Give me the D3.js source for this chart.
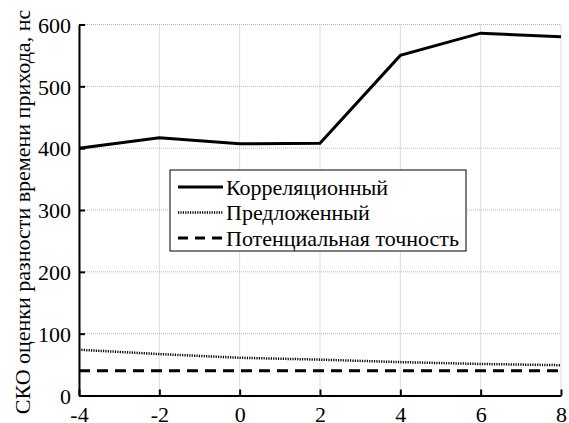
<!DOCTYPE html>
<html><head><meta charset="utf-8">
<script src="https://cdn.jsdelivr.net/npm/d3@7/dist/d3.min.js"></script>
<style>
  @font-face { font-family: "ChartSerif"; src: local("Liberation Serif"), local("LiberationSerif"), local("Liberation Serif Regular"), local("LiberationSerif-Regular"); }
  #chart text { font-family: "Liberation Serif", "ChartSerif", "Times New Roman", "DejaVu Serif", serif; }
</style>
</head>
<body style="margin:0">
<svg id="chart" width="569" height="423" style="display:block" font-family="Liberation Serif"><text id="ylabel" font-family="Liberation Serif" font-size="22" text-anchor="middle" dy="0.35em">СКО оценки разности времени прихода, нс</text></svg>
<script>
// SNR values along the horizontal axis
const snr = [-4, -2, 0, 2, 4, 6, 8];
// RMS error of time-difference-of-arrival estimate, ns
const correlational = [400, 417, 407, 408, 550, 586, 580];
const proposed = [74, 67, 61, 58, 54, 51, 49];
const potential = [40, 40, 40, 40, 40, 40, 40];

const xTicks = [-4, -2, 0, 2, 4, 6, 8];
const yTicks = [0, 100, 200, 300, 400, 500, 600];

const seriesNames = ["Корреляционный", "Предложенный", "Потенциальная точность"];
const yLabel = "СКО оценки разности времени прихода, нс";

const FONT = "Liberation Serif";

const svg = d3.select("#chart");
const margin = { left: 79, right: 8, top: 24.5, bottom: 27.5 };
const W = 569, H = 423;

const x = d3.scaleLinear().domain([-4, 8]).range([margin.left, W - margin.right]);
const y = d3.scaleLinear().domain([0, 600]).range([H - margin.bottom, margin.top]);

// grid
const grid = svg.append("g").attr("stroke", "#b8b8b8").attr("stroke-width", 1)
  .attr("stroke-dasharray", "1,1");
xTicks.forEach(t => {
  grid.append("line").attr("x1", x(t)).attr("x2", x(t))
    .attr("y1", y(0)).attr("y2", y(600));
});
yTicks.forEach(t => {
  grid.append("line").attr("x1", x(-4)).attr("x2", x(8))
    .attr("y1", y(t)).attr("y2", y(t));
});

// axes
const fmt = d => String(d);
const xAxis = d3.axisBottom(x).tickValues(xTicks).tickSizeInner(-6).tickSizeOuter(0)
  .tickPadding(11).tickFormat(fmt);
const yAxis = d3.axisLeft(y).tickValues(yTicks).tickSizeInner(-6).tickSizeOuter(0)
  .tickPadding(8).tickFormat(fmt);

const gx = svg.append("g").attr("transform", `translate(0,${y(0)})`).call(xAxis);
const gy = svg.append("g").attr("transform", `translate(${x(-4)},0)`).call(yAxis);
[gx, gy].forEach(g => {
  g.attr("font-family", FONT).attr("font-size", 22);
  g.select(".domain").attr("stroke", "#000").attr("stroke-width", 2);
  g.selectAll(".tick line").attr("stroke", "#000").attr("stroke-width", 2);
  g.selectAll(".tick text").attr("fill", "#000").attr("font-family", FONT);
});
gx.selectAll(".tick text").attr("dy", "0.71em");
gy.selectAll(".tick text").attr("dy", "0.35em");

// y label
svg.select("#ylabel")
  .attr("transform", `translate(22,${(y(0) + y(600)) / 2 + 2}) rotate(-90)`)
  .text(yLabel);

// lines
const styles = [
  { width: 3, dash: null },
  { width: 2.5, dash: "1.2,1.2" },
  { width: 3, dash: "11,7" }
];
const data = [correlational, proposed, potential];
const line = d3.line().x((d, i) => x(snr[i])).y(d => y(d));
data.forEach((vals, k) => {
  svg.append("path").datum(vals)
    .attr("fill", "none").attr("stroke", "#000")
    .attr("stroke-width", styles[k].width)
    .attr("stroke-dasharray", styles[k].dash)
    .attr("d", line);
});

// legend
const lg = svg.append("g").attr("transform", "translate(170,170)");
lg.append("rect").attr("x", 0).attr("y", 0).attr("width", 296).attr("height", 81)
  .attr("fill", "#fff").attr("stroke", "#000").attr("stroke-width", 1);
seriesNames.forEach((name, k) => {
  const cy = 17 + k * 25.5;
  lg.append("line").attr("x1", 8).attr("x2", 53).attr("y1", cy).attr("y2", cy)
    .attr("stroke", "#000").attr("stroke-width", styles[k].width)
    .attr("stroke-dasharray", k === 2 ? "10,7" : styles[k].dash);
  lg.append("text").attr("x", 56).attr("y", cy).attr("dy", "0.35em")
    .attr("font-family", FONT).attr("font-size", 22).text(name);
});
</script>
</body>
</html>
